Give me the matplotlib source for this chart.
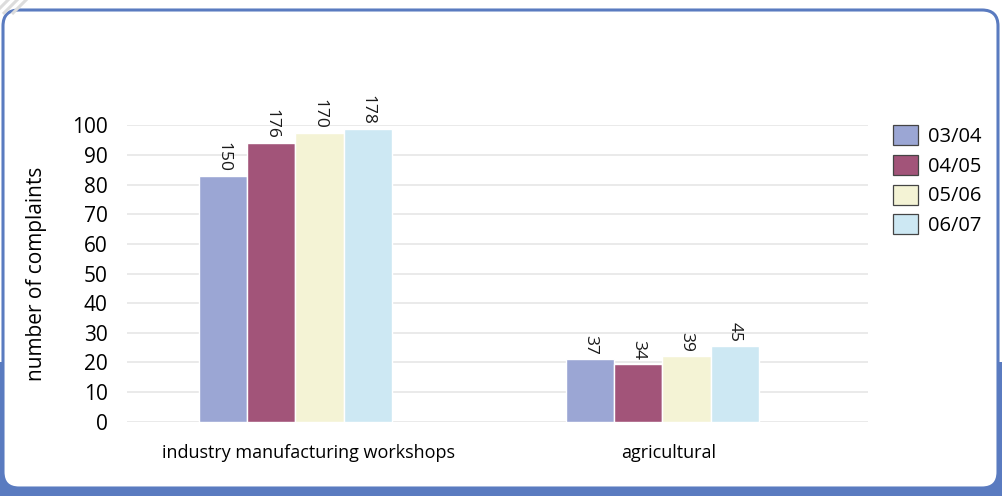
import matplotlib
matplotlib.use("Agg")
import matplotlib.pyplot as plt
from matplotlib.patches import FancyBboxPatch, Rectangle, Patch
import numpy as np

plt.rcParams['font.family'] = ['Open Sans', 'DejaVu Sans']

# Complaint categories and reporting years
categories = ["industry manufacturing workshops", "agricultural"]
years = ["03/04", "04/05", "05/06", "06/07"]

# Bar heights on the 0-100 axis, one list per year
heights_0304 = [83, 21]
heights_0405 = [94.2, 19.3]
heights_0506 = [97.6, 22.2]
heights_0607 = [98.8, 25.5]

# Numbers printed above each bar, one list per year
labels_0304 = [150, 37]
labels_0405 = [176, 34]
labels_0506 = [170, 39]
labels_0607 = [178, 45]

y_ticks = list(range(0, 101, 10))

series_heights = [heights_0304, heights_0405, heights_0506, heights_0607]
series_labels = [labels_0304, labels_0405, labels_0506, labels_0607]
colors = ["#9ba6d4", "#a25479", "#f4f3d5", "#cde8f3"]

W, H = 1002, 496
fig = plt.figure(figsize=(W / 100, H / 100), dpi=100)

# Background panel: blue band with a rounded white card on top
bg = fig.add_axes([0, 0, 1, 1])
bg.set_xlim(0, W)
bg.set_ylim(H, 0)
bg.axis("off")
bg.add_patch(Rectangle((0, 362), W, H - 362, facecolor="#5a7bc0", edgecolor="none"))
for off in (0, 9, 18):
    bg.plot([off - 6, off + 14], [14, -6], color="#dcdcdc", lw=2.2, solid_capstyle="butt")
bg.add_patch(FancyBboxPatch((3, 10), 995, 478,
                            boxstyle="round,pad=0,rounding_size=16",
                            facecolor="white", edgecolor="#5a7bc0", linewidth=2.2))

# Main chart
ax = fig.add_axes([127 / W, (H - 421.5) / H, (868 - 127) / W, (421.5 - 125.5) / H])
ax.set_facecolor("none")
n = len(years)
width = 0.1315
x = np.arange(len(categories))
for i, (vals, labs, col) in enumerate(zip(series_heights, series_labels, colors)):
    pos = x + (i - (n - 1) / 2) * width
    bars = ax.bar(pos, vals, width=width, color=col, edgecolor="white", linewidth=1.0,
                  label=years[i], zorder=3)
    for b, lab in zip(bars, labs):
        ax.annotate(str(lab), (b.get_x() + b.get_width() / 2, b.get_height()),
                    xytext=(0, 3), textcoords="offset points",
                    rotation=270, ha="center", va="bottom", fontsize=12.5,
                    color="#1a1a1a", annotation_clip=False)

ax.set_xlim(-0.459, 1.56)
ax.set_ylim(0, 100)
ax.set_yticks(y_ticks)
ax.set_xticks(x + np.array([0.035, 0.018]))
ax.set_xticklabels(categories, fontsize=13)
ax.tick_params(axis="y", labelsize=15, length=0, pad=14)
ax.tick_params(axis="x", length=0, pad=16)
ax.grid(axis="y", color="#e6e6e6", linewidth=1.2, zorder=0)
for s in ax.spines.values():
    s.set_visible(False)
ax.set_ylabel("number of complaints", fontsize=15, labelpad=18)

handles = [Patch(facecolor=c, edgecolor="#444444", linewidth=0.9) for c in colors]
fig.legend(handles, years, loc="upper left", bbox_to_anchor=(885 / W, 1 - 117 / H),
           frameon=False, fontsize=14.5, handlelength=1.24, handleheight=1.14,
           labelspacing=0.4, handletextpad=0.5, borderaxespad=0)

fig.savefig("out.png", dpi=100)
